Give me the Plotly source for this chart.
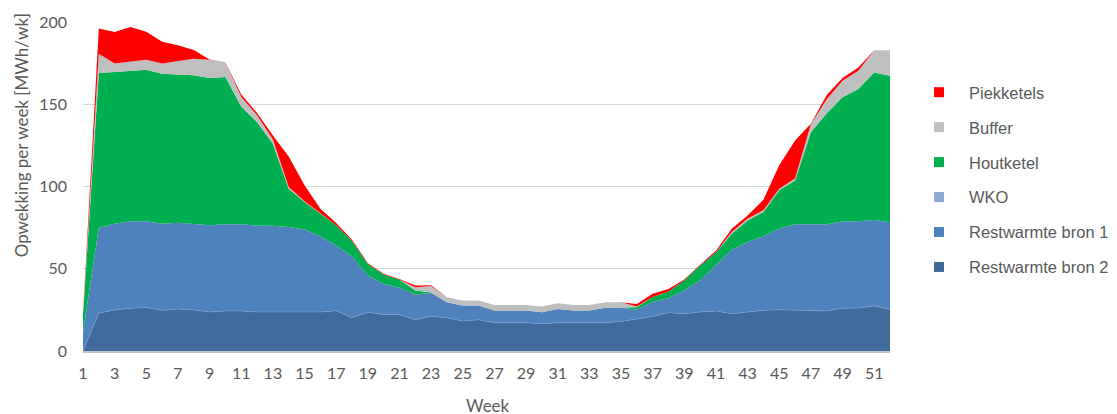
import plotly.graph_objects as go

weeks = list(range(1, 53))

restwarmte_bron2 = [0, 23, 25, 26, 26.5, 24.7, 25.5, 25, 23.7, 24.3, 24.3, 23.7, 23.7, 23.7, 23.7, 23.7,
                    24.5, 20.2, 23.6, 22.2, 22.2, 19, 21.2, 20.2, 18.2, 19, 17.2, 17.2, 17.2, 16.6, 17.2, 17.2,
                    17.2, 17.2, 18, 19.7, 21, 23.3, 22.7, 23.7, 24.3, 22.7, 23.7, 24.7, 25.1, 24.7, 24.3, 24.3,
                    26, 26.1, 27.4, 25.3]
restwarmte_bron1 = [11.5, 52, 52.4, 52.8, 52.3, 52.7, 52.5, 52.4, 52.7, 52.7, 52.7, 52.5, 52.5, 51.7, 50.1, 46,
                    39.7, 37.3, 22.4, 18.6, 16.2, 15.3, 14, 9.5, 9.5, 8.7, 7.4, 7.4, 7.4, 7, 8.3, 7.4,
                    7.4, 9.1, 8.3, 5.4, 8.8, 8.9, 14.2, 19.3, 27.7, 38.9, 42.6, 45, 49.3, 52.3, 52.7, 52.7,
                    52.7, 52.7, 52.3, 53]
wko = [0] * 52
houtketel = [10.5, 94, 92.2, 91.6, 92.2, 91.2, 90, 90.2, 89.6, 89.6, 71.7, 63, 49.8, 23.3, 16.8, 13.8,
             12.2, 9.4, 6.9, 5.7, 5, 2.5, 0.3, 0, 0, 0, 0, 0, 0, 0, 0, 0,
             0, 0, 0.3, 1.5, 3, 4, 6, 9, 8, 9.7, 13.1, 14.8, 23.3, 26.7, 56, 67.5,
             75.6, 80.5, 89.6, 89]
buffer = [0, 11.7, 5.1, 5.3, 6, 6.1, 8.3, 10.1, 11, 8.9, 5.7, 4.1, 2.5, 1, 0.5, 0.3,
          0, 0, 0, 0, 0, 2, 4, 3, 3, 3, 3.4, 3.4, 3.4, 3.4, 3.5, 3.4,
          3.4, 3.4, 3.1, 0.5, 0, 0, 0, 0, 0, 1, 1, 1, 1, 1.1, 4.8, 8.5,
          10, 11, 13.6, 15.6]
piekketels = [0.5, 15.3, 19.2, 21.3, 17, 13.3, 9.5, 5.3, 0.2, 0, 1.6, 1.4, 2.5, 18.6, 9.6, 2.7,
              1.4, 0.8, 0.5, 0.4, 0.4, 1, 0.5, 0, 0, 0, 0, 0, 0, 0, 0, 0,
              0, 0, 0, 1.5, 2, 1.5, 0.5, 0.5, 1, 2, 2, 6.5, 14.2, 23.2, 0.3, 2.6,
              1.6, 2, 0, 0]

series = [
    ("Restwarmte bron 2", restwarmte_bron2, "#416A9C"),
    ("Restwarmte bron 1", restwarmte_bron1, "#4F81BD"),
    ("WKO", wko, "#8EA9D2"),
    ("Houtketel", houtketel, "#00B050"),
    ("Buffer", buffer, "#BFBFBF"),
    ("Piekketels", piekketels, "#FF0000"),
]

fig = go.Figure()
for name, vals, col in series:
    is_b2 = name == "Restwarmte bron 2"
    fig.add_trace(go.Scatter(
        x=weeks, y=vals, name=name, stackgroup="one", mode="lines",
        line=dict(width=0.6 if is_b2 else 0, color="#7E9CCB" if is_b2 else col),
        fillcolor=col, showlegend=False, hoverinfo="x+y+name",
    ))

# legend entries (small squares like the original)
for name, vals, col in reversed(series):
    fig.add_trace(go.Scatter(
        x=[None], y=[None], mode="markers", name=name,
        marker=dict(symbol="square", size=10, color=col),
        legendgroup=name, showlegend=True,
    ))

tick_font = dict(family="Lato, Open Sans, sans-serif", size=16, color="#595959")
title_font = dict(family="Lato, Open Sans, sans-serif", size=17, color="#595959")

fig.update_layout(
    width=1117, height=414,
    margin=dict(l=75, r=234, t=14, b=71),
    paper_bgcolor="white", plot_bgcolor="white",
    showlegend=True,
    legend=dict(
        x=1.0223, xanchor="left", y=0.839, yanchor="top",
        font=dict(family="Liberation Sans, Arial, sans-serif", size=16.5, color="#595959"),
        traceorder="grouped", tracegroupgap=10.5, itemwidth=50,
        bgcolor="rgba(0,0,0,0)",
    ),
    xaxis=dict(
        range=[1, 52], tickmode="array", tickvals=list(range(1, 53, 2)),
        ticktext=[str(v) for v in range(1, 53, 2)],
        showgrid=False, zeroline=False, ticks="", automargin=False,
        showline=True, linecolor="#BFC3CC", linewidth=2,
        tickfont=tick_font, ticklabelstandoff=7,
    ),
    yaxis=dict(
        range=[0, 200], tickvals=[0, 50, 100, 150, 200],
        showgrid=True, gridcolor="#D9D9D9", gridwidth=1, automargin=False,
        zeroline=False, showline=False, ticks="",
        tickfont=tick_font, ticklabelstandoff=15,
    ),
    annotations=[
        dict(text="Week", xref="paper", yref="paper", x=0.5017, y=-0.1666,
             xanchor="center", yanchor="middle", showarrow=False, font=title_font),
        dict(text="Opwekking per week [MWh/wk]", xref="paper", yref="paper",
             x=-0.0763, y=0.657, xanchor="center", yanchor="middle", textangle=-90,
             showarrow=False, font=title_font),
    ],
)

fig.write_html("out.html")
